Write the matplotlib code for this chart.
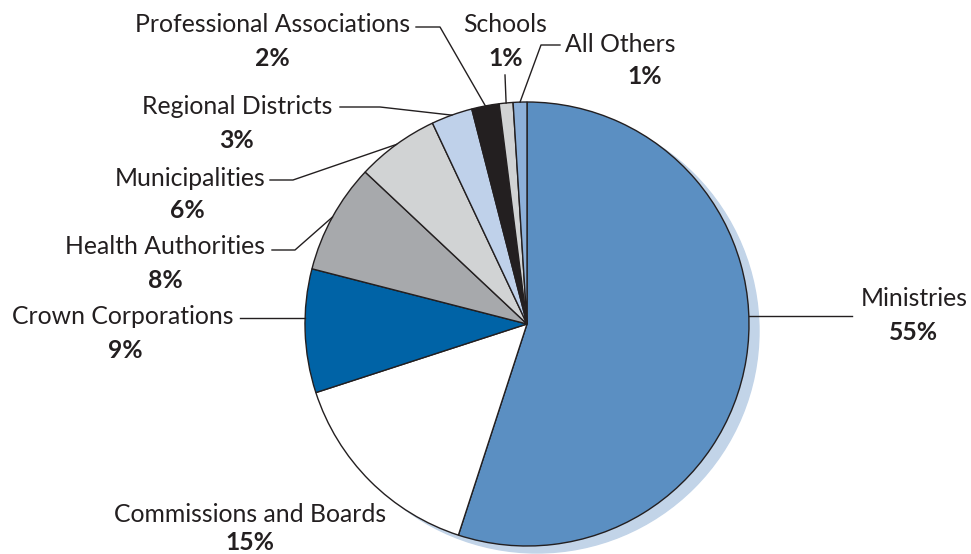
import matplotlib.pyplot as plt
from matplotlib.patches import Circle
import numpy as np

plt.rcParams['font.family'] = ['Lato', 'DejaVu Sans']

labels = ["Ministries", "Commissions and Boards", "Crown Corporations",
          "Health Authorities", "Municipalities", "Regional Districts",
          "Professional Associations", "Schools", "All Others"]
shares = [55, 15, 9, 8, 6, 3, 2, 1, 1]
colors = ["#5b8fc2", "#ffffff", "#0063a6", "#a7a9ac", "#d1d3d4",
          "#bfd1ea", "#231f20", "#d1d3d4", "#8eb1d9"]

W, H = 971, 554
cx, cy, r = 527, H - 324, 222

fig = plt.figure(figsize=(W / 100, H / 100), dpi=100)
ax = fig.add_axes([0, 0, 1, 1])

# drop shadow behind the pie
ax.add_patch(Circle((cx + 10, cy - 7), r, color="#c2d4e8", zorder=0))

ax.pie(shares, colors=colors, startangle=90, counterclock=False,
       center=(cx, cy), radius=r, frame=True,
       wedgeprops=dict(edgecolor="#231f20", linewidth=1.0))
ax.set_xlim(0, W)
ax.set_ylim(0, H)
ax.set_aspect('equal')
ax.axis('off')

cum = np.cumsum([0] + shares)


def edge_at_mid(i):
    # point on the rim at the middle of wedge i
    pct = (cum[i] + cum[i + 1]) / 2
    th = np.deg2rad(90 - pct * 3.6)
    return cx + r * np.cos(th), cy + r * np.sin(th)


def edge_at_y(y, side):
    return cx + side * np.sqrt(r ** 2 - (y - cy) ** 2), y


# text anchors and elbow points of the leader lines, in px from the top-left
layout = {
    "Ministries": dict(name=(861, 299), ha="left", pct=(914, 332),
                       path=[(852, 316)], end=edge_at_y(H - 316, 1)),
    "Commissions and Boards": dict(name=(250, 514), ha="center", pct=(250, 543),
                                   path=None, end=None),
    "Crown Corporations": dict(name=(233, 317), ha="right", pct=(125, 350),
                               path=[(240, 318)], end=edge_at_y(H - 318, -1)),
    "Health Authorities": dict(name=(265, 247), ha="right", pct=(165, 280),
                               path=[(272, 250), (295, 250)], end=edge_at_mid(3)),
    "Municipalities": dict(name=(265, 178), ha="right", pct=(187, 210),
                           path=[(270, 180), (293, 180)], end=edge_at_mid(4)),
    "Regional Districts": dict(name=(332, 106), ha="right", pct=(237, 140),
                               path=[(340, 107), (380, 107)], end=edge_at_mid(5)),
    "Professional Associations": dict(name=(410, 25), ha="right", pct=(272, 58),
                                      path=[(416, 27), (440, 27)], end=edge_at_mid(6)),
    "Schools": dict(name=(505, 25), ha="center", pct=(506, 58),
                    path=[(505, 75)], end=edge_at_mid(7)),
    "All Others": dict(name=(565, 45), ha="left", pct=(645, 77),
                       path=[(560, 45), (541, 45)], end=edge_at_mid(8)),
}

for lab, val in zip(labels, shares):
    d = layout[lab]
    nx, ny = d["name"]
    ax.text(nx, H - ny, lab, ha=d["ha"], va="center", fontsize=17.8,
            color="#231f20")
    px, py = d["pct"]
    ax.text(px, H - py, f"{val}%", ha="center", va="center", fontsize=17.8,
            fontweight="bold", color="#231f20")
    if d["path"]:
        xs = [p[0] for p in d["path"]] + [d["end"][0]]
        ys = [H - p[1] for p in d["path"]] + [d["end"][1]]
        ax.plot(xs, ys, color="#231f20", linewidth=1.0, zorder=5)

fig.savefig("out.png", dpi=100)
